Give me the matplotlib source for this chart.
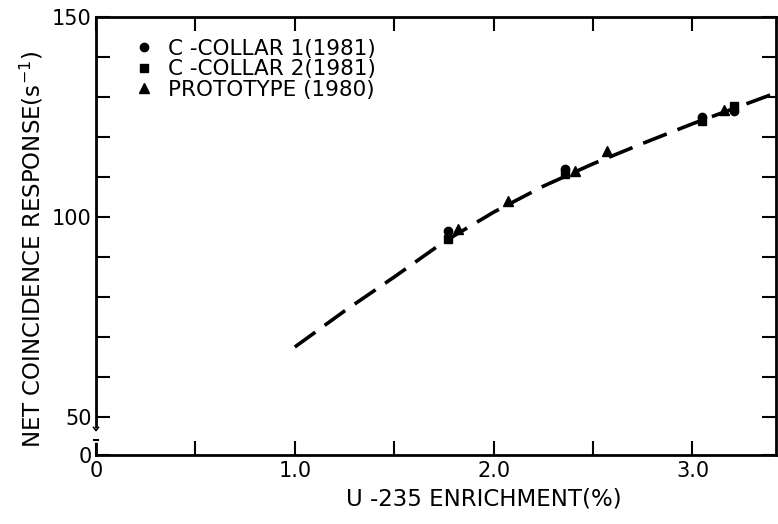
import matplotlib
matplotlib.use('Agg')
import matplotlib.pyplot as plt
import numpy as np

# values
curve_x = [1.0, 1.25, 1.5, 1.75, 2.0, 2.25, 2.5, 2.75, 3.0, 3.25, 3.43]
curve_y = [67.5, 76.5, 85.0, 93.8, 101.2, 107.7, 113.3, 118.4, 123.3, 127.9, 131.2]

collar1_x = [1.77, 2.36, 3.05, 3.21]
collar1_y = [96.5, 112.0, 125.0, 126.5]
collar2_x = [1.77, 2.36, 3.05, 3.21]
collar2_y = [94.5, 110.8, 124.0, 127.8]
proto_x = [1.82, 2.07, 2.41, 2.57, 3.16]
proto_y = [97.0, 104.0, 111.5, 116.5, 126.8]

labels = ['C -COLLAR 1(1981)', 'C -COLLAR 2(1981)', 'PROTOTYPE (1980)']

# broken y axis: the bottom of the axis stands for 0
y_zero = 40.5

plt.rcParams['font.family'] = 'DejaVu Sans'
fig = plt.figure(figsize=(7.78, 5.24), dpi=100)
ax = fig.add_axes([0.1234, 0.1317, 0.8740, 0.8359])

ax.plot(curve_x, curve_y, color='black', lw=2.6, dashes=(7, 3.2), zorder=2)
ax.plot(collar1_x, collar1_y, 'o', color='black', ms=6, label=labels[0], zorder=3)
ax.plot(collar2_x, collar2_y, 's', color='black', ms=5.5, label=labels[1], zorder=3)
ax.plot(proto_x, proto_y, '^', color='black', ms=7, label=labels[2], zorder=3)

ax.set_xlim(0, 3.42)
ax.set_ylim(y_zero, 150)

ax.set_xticks([0, 0.5, 1.0, 1.5, 2.0, 2.5, 3.0])
ax.set_xticklabels(['0', '', '1.0', '', '2.0', '', '3.0'])
ax.set_yticks([y_zero, 50, 60, 70, 80, 90, 100, 110, 120, 130, 140, 150])
ax.set_yticklabels(['0', '50', '', '', '', '', '100', '', '', '', '', '150'])
ax.tick_params(direction='in', length=10, width=1.5, labelsize=15,
               top=True, right=True, pad=3)
ax.tick_params(axis='x', pad=4)

for s in ax.spines.values():
    s.set_linewidth(2)

# axis break marks on the left spine
ax.plot([0, 0], [44.3, 46.6], color='white', lw=4, clip_on=False, zorder=5)
ax.plot([-0.012, 0.012], [44.3, 44.3], color='black', lw=1.5, clip_on=False, zorder=6)
ax.plot([-0.012, 0.0, 0.012], [47.4, 46.6, 47.4], color='black', lw=1.2, clip_on=False, zorder=6)

ax.set_xlabel('U -235 ENRICHMENT(%)', fontsize=16.5, labelpad=8)
ax.xaxis.set_label_coords(0.57, -0.075)
ax.set_ylabel('NET COINCIDENCE RESPONSE(s$^{-1}$)', fontsize=16.5, labelpad=6)
ax.yaxis.set_label_coords(-0.075, 0.47)

ax.legend(loc='upper left', bbox_to_anchor=(0.045, 0.97), frameon=False,
          fontsize=15.5, handlelength=0.8, handletextpad=0.7, labelspacing=0.02,
          borderaxespad=0)

fig.savefig('out.png', dpi=100)
